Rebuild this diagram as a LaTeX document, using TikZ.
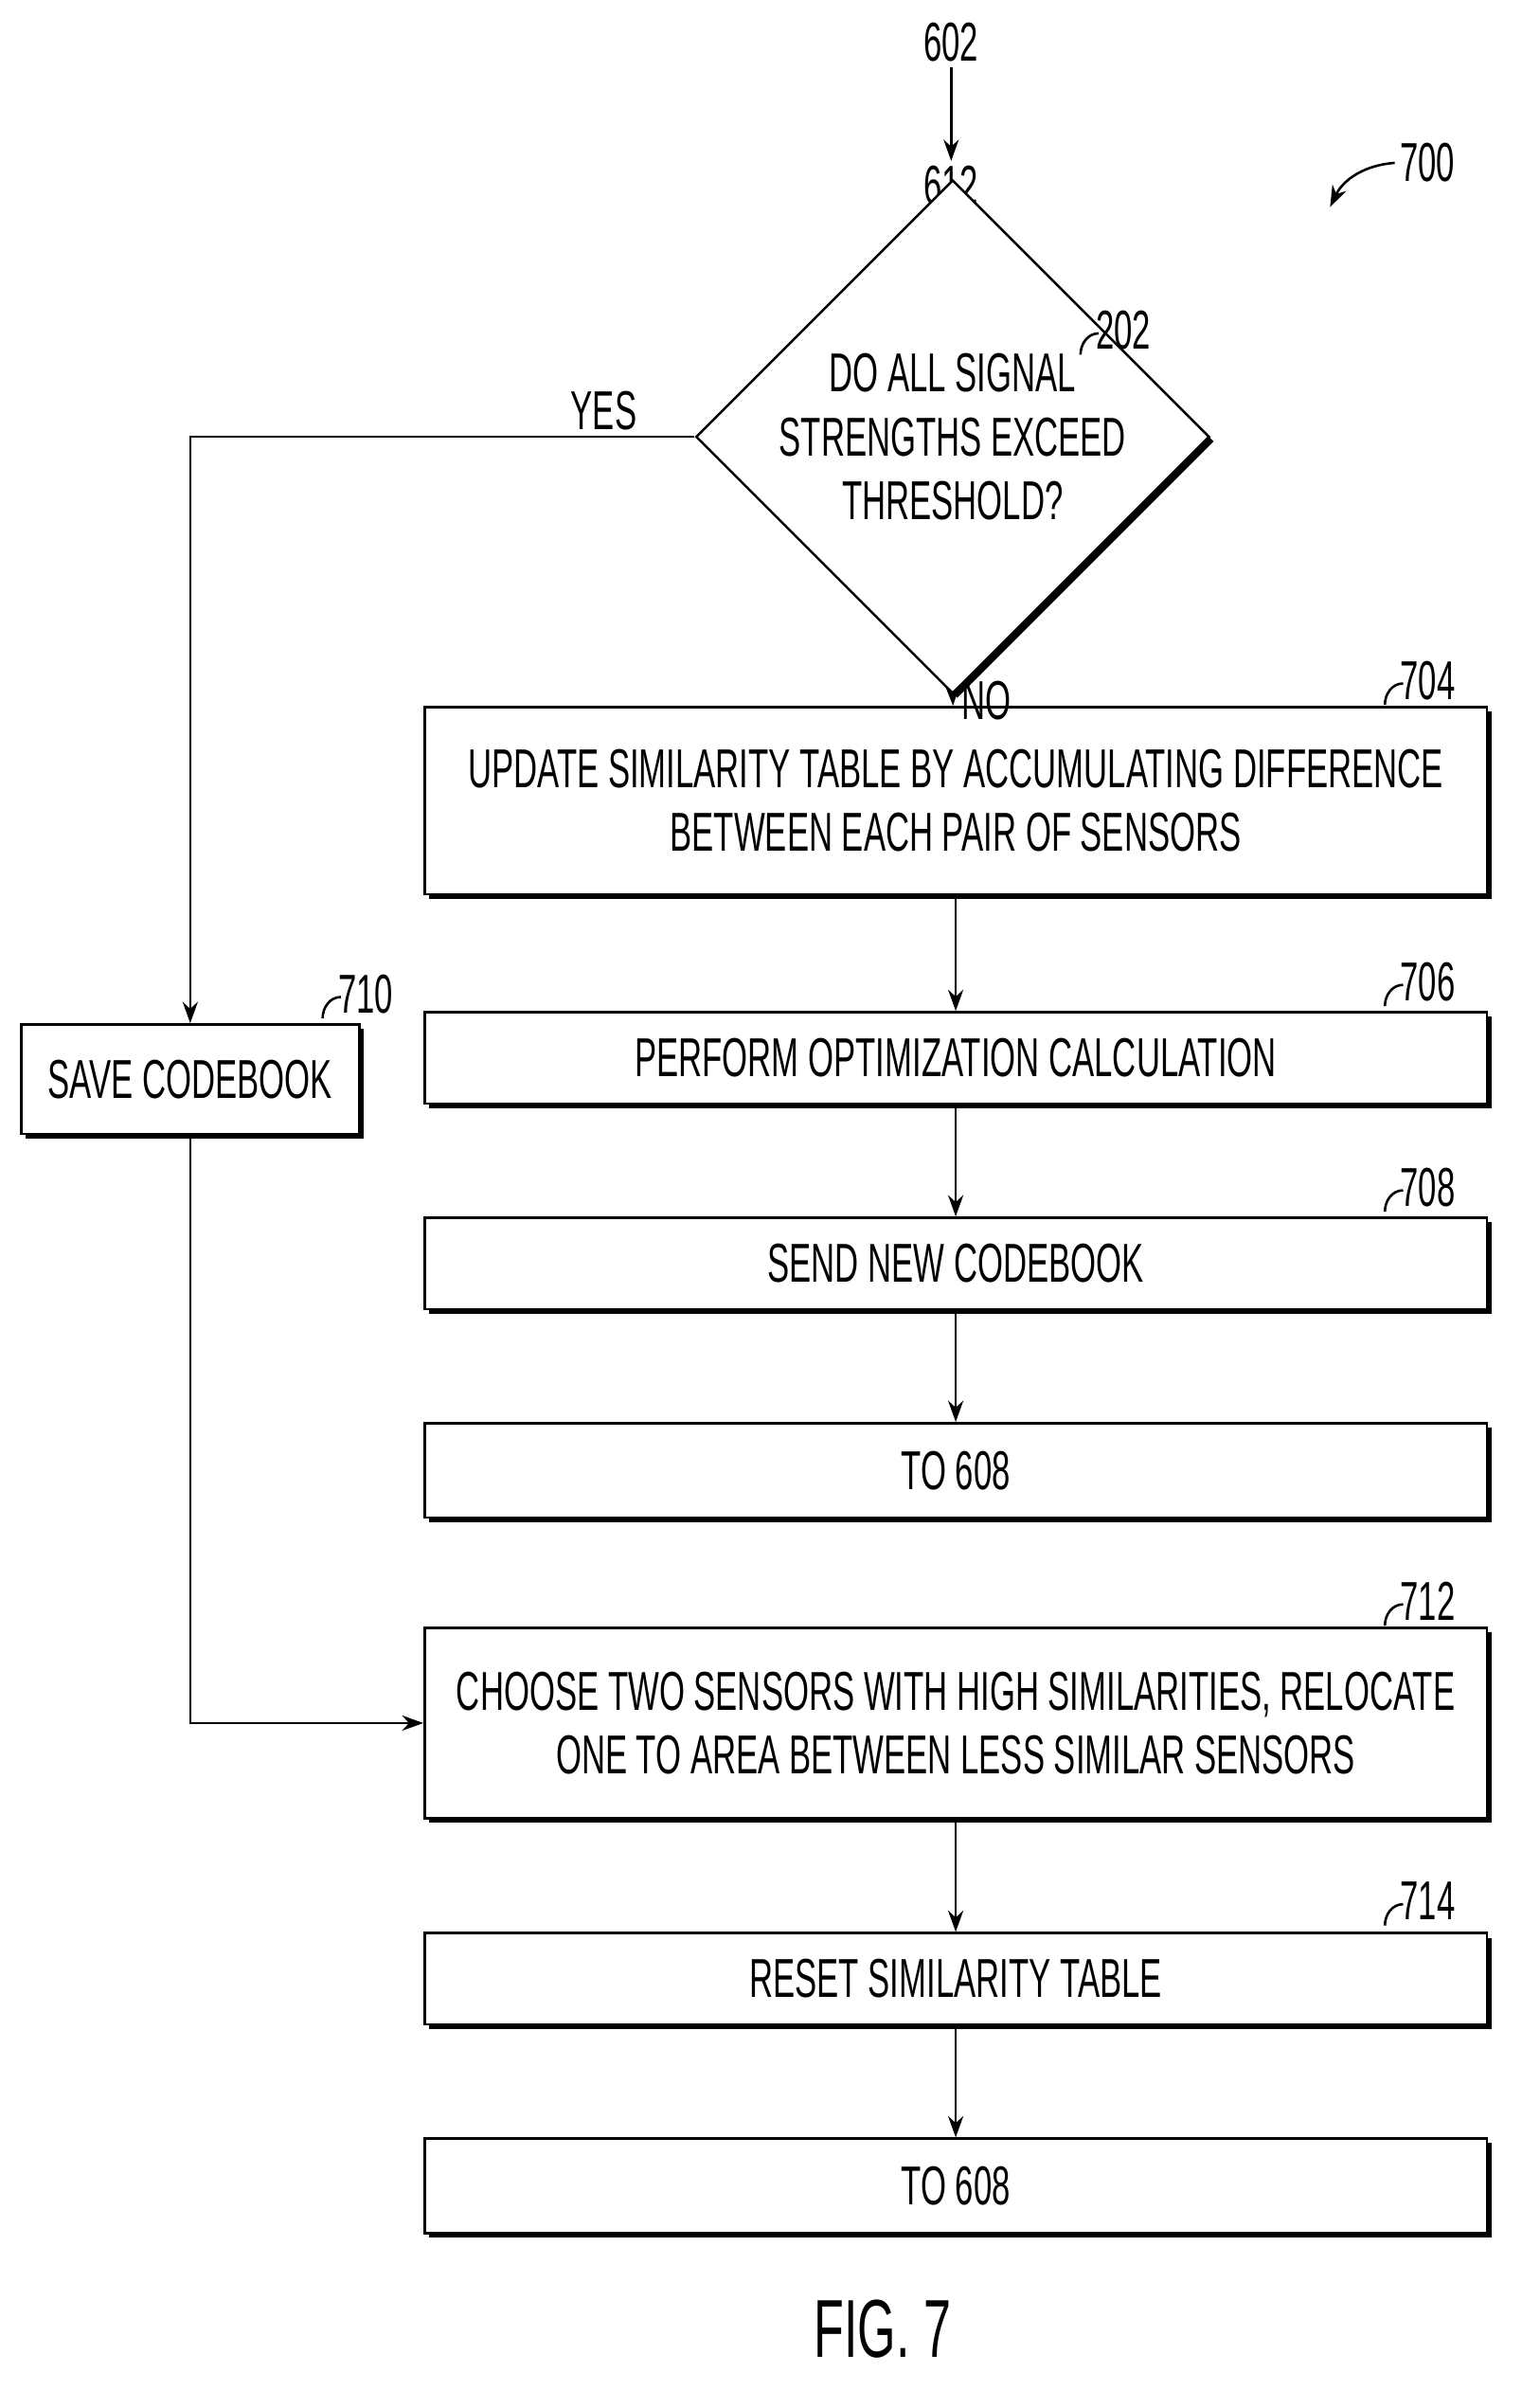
\documentclass[tikz,border=0pt]{standalone}
\usepackage{fontspec}
\setmainfont{Liberation Sans}[FakeStretch=0.6]
\usetikzlibrary{
    positioning,
    arrows.meta,
    shapes.geometric,
    shadows
}
\tikzset{%
    step box/.style={%
        rectangle,
        draw,
        fill=white,
        line width=1.6pt,
        align=center,
        inner sep=2pt,
        minimum width=698pt,
        drop shadow={shadow xshift=3pt, shadow yshift=-3pt, fill=black, opacity=1}
    },
    decision/.style={%
        diamond,
        draw,
        fill=white,
        line width=1.6pt,
        align=center,
        inner sep=0pt,
        minimum width=316pt,
        minimum height=247pt,
        drop shadow={shadow xshift=3pt, shadow yshift=-3pt, fill=black, opacity=1}
    },
    arrow/.style={%
        line width=1.6pt,
        -{Stealth[length=14pt,width=10pt]}
    },
    line/.style={%
        line width=1.6pt
    },
}
\newcommand{\reflabel}[3]{%
    \draw[line] (#1,#2) to[out=90,in=180] (#1+12,#2-14);
    \node[anchor=west, inner sep=0pt] at (#1+10,#2-16) {#3};
}
\begin{document}
\begin{tikzpicture}[x=1pt, y=-1pt, font=\fontsize{36}{42}\selectfont]
    \useasboundingbox (0,0) rectangle (1000,1582);

    \node (in) at (625,28) {602};
    \node (start) at (625,122) {612};
    \node (fig) at (580,1530) {\fontsize{54}{60}\selectfont FIG.\,7};
    \node (num) at (938,107) {700};
    \coordinate (numend) at (874,136);
    \draw[arrow] (num.west) to[bend right=30] (numend);

    \node[decision] (Q) at (626,287) {DO ALL SIGNAL\\STRENGTHS EXCEED\\THRESHOLD?};
    \node[step box, minimum height=123pt] (update) at (628,526) {UPDATE SIMILARITY TABLE BY ACCUMULATING DIFFERENCE\\BETWEEN EACH PAIR OF SENSORS};
    \node[step box, minimum height=60pt] (optim) at (628,695) {PERFORM OPTIMIZATION CALCULATION};
    \node[step box, minimum height=60pt] (send) at (628,830) {SEND NEW CODEBOOK};
    \node[step box, minimum height=62pt] (toA) at (628,966) {TO 608};
    \node[step box, minimum height=125pt] (choose) at (628,1132) {CHOOSE TWO SENSORS WITH HIGH SIMILARITIES, RELOCATE\\ONE TO AREA BETWEEN LESS SIMILAR SENSORS};
    \node[step box, minimum height=60pt] (reset) at (628,1300) {RESET SIMILARITY TABLE};
    \node[step box, minimum height=62pt] (toB) at (628,1436) {TO 608};
    \node[step box, minimum width=222pt, minimum height=72pt] (save) at (125,709) {SAVE CODEBOOK};

    \reflabel{710}{233}{202}
    \reflabel{910}{463}{704}
    \reflabel{910}{661}{706}
    \reflabel{910}{796}{708}
    \reflabel{910}{1068}{712}
    \reflabel{910}{1265}{714}
    \reflabel{212}{669}{710}

    \draw[arrow] (in) -- (start);
    \draw[arrow] (Q.south) -- node[right, xshift=2pt] {NO} (update);
    \draw[arrow] (Q.west) -- node[above, pos=0.18] {YES} (Q.west -| save) -- (save);
    \draw[arrow] (update) -- (optim);
    \draw[arrow] (optim) -- (send);
    \draw[arrow] (send) -- (toA);
    \draw[arrow] (save) |- (choose);
    \draw[arrow] (choose) -- (reset);
    \draw[arrow] (reset) -- (toB);
\end{tikzpicture}
\end{document}
